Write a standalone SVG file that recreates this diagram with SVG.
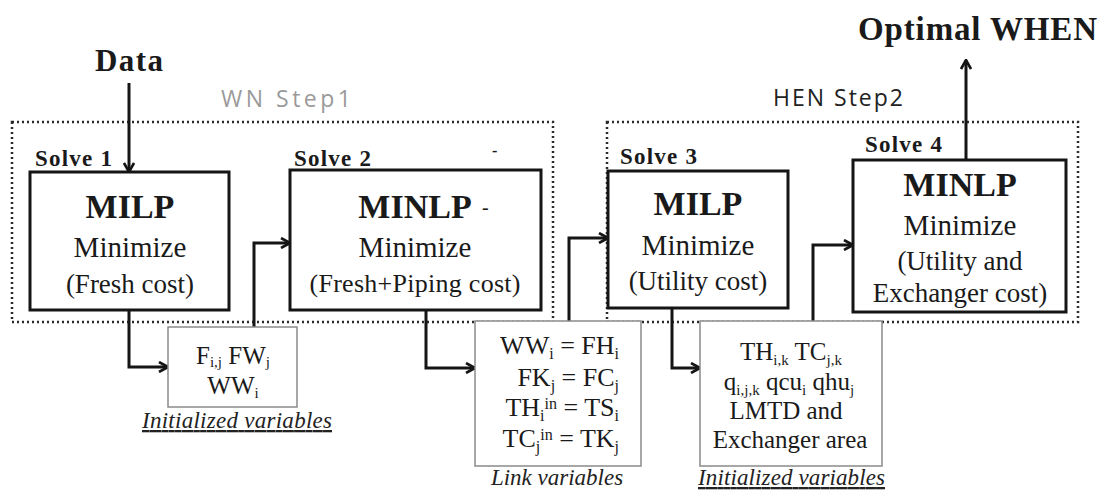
<svg xmlns="http://www.w3.org/2000/svg" width="1101" height="490" viewBox="0 0 1101 490">
<style>
  .serif { font-family: "Liberation Serif", "Times New Roman", serif; fill: #1a1a1a; }
  .bold { font-weight: bold; }
  .title { font-family: "Liberation Serif", serif; font-weight: bold; fill: #1a1a1a; }
  .step { font-family: "Open Sans", "Liberation Sans", sans-serif; }
  .box { fill: #ffffff; stroke: #151515; stroke-width: 3; }
  .small { fill: #ffffff; stroke: #8a8a8a; stroke-width: 1.5; }
  .dot { fill: none; stroke: #2a2a2a; stroke-width: 2.5; stroke-dasharray: 2 3; }
  .conn { fill: none; stroke: #151515; stroke-width: 3; }
  .mid { text-anchor: middle; }
  .lab { font-family: "Liberation Serif", serif; font-style: italic; fill: #222; font-size: 23px; }
</style>
<defs>
  <marker id="ah" viewBox="0 0 12 12" refX="10.5" refY="6" markerWidth="12" markerHeight="12" markerUnits="userSpaceOnUse" orient="auto">
    <path d="M1.5,1 L10.5,6 L1.5,11" fill="none" stroke="#151515" stroke-width="2.6"/>
  </marker>
</defs>

<g id="titles">
  <text class="title" x="95" y="71" font-size="31" textLength="68">Data</text>
  <text class="title" x="858" y="40" font-size="33" textLength="239">Optimal WHEN</text>
  <text class="step" x="221" y="107" font-size="23" fill="#9a9a9a" textLength="130">WN Step1</text>
  <text class="step" x="773" y="106" font-size="23" fill="#222" textLength="130">HEN Step2</text>
</g>

<g id="groups">
  <rect id="wn-step1" class="dot" x="12" y="122" width="541" height="200"/>
  <rect id="hen-step2" class="dot" x="607" y="122" width="471" height="200"/>
</g>

<g id="connectors">
  <path class="conn" d="M129,83 V172" marker-end="url(#ah)"/>
  <path class="conn" d="M129,310 V367 H168" marker-end="url(#ah)"/>
  <path class="conn" d="M254,327 V243 H290" marker-end="url(#ah)"/>
  <path class="conn" d="M426,310 V368 H475" marker-end="url(#ah)"/>
  <path class="conn" d="M569,321 V238 H608" marker-end="url(#ah)"/>
  <path class="conn" d="M672,308 V368 H700" marker-end="url(#ah)"/>
  <path class="conn" d="M813,321 V245 H853" marker-end="url(#ah)"/>
  <path class="conn" d="M966,160 V60" marker-end="url(#ah)"/>
</g>

<g id="solve1">
  <text class="serif bold" x="35" y="166" font-size="23" textLength="77">Solve 1</text>
  <rect class="box" x="30" y="172" width="199" height="138"/>
  <text class="serif bold mid" x="130" y="218" font-size="34">MILP</text>
  <text class="serif mid" x="130" y="257" font-size="29">Minimize</text>
  <text class="serif mid" x="130" y="293" font-size="27">(Fresh cost)</text>
</g>

<g id="solve2">
  <text class="serif bold" x="294" y="166" font-size="23" textLength="77">Solve 2</text>
  <text class="serif bold" x="492" y="156" font-size="16">-</text>
  <rect class="box" x="290" y="170" width="251" height="140"/>
  <text class="serif bold mid" x="415" y="218" font-size="34">MINLP</text>
  <text class="serif" x="482" y="214" font-size="20">-</text>
  <text class="serif mid" x="415" y="257" font-size="29">Minimize</text>
  <text class="serif mid" x="415" y="292" font-size="26" textLength="211">(Fresh+Piping cost)</text>
</g>

<g id="solve3">
  <text class="serif bold" x="620" y="164" font-size="23" textLength="77">Solve 3</text>
  <rect class="box" x="608" y="171" width="180" height="137"/>
  <text class="serif bold mid" x="698" y="215" font-size="34">MILP</text>
  <text class="serif mid" x="698" y="255" font-size="29">Minimize</text>
  <text class="serif mid" x="698" y="290" font-size="27">(Utility cost)</text>
</g>

<g id="solve4">
  <text class="serif bold" x="865" y="152" font-size="23" textLength="77">Solve 4</text>
  <rect class="box" x="853" y="160" width="213" height="152"/>
  <text class="serif bold mid" x="960" y="196" font-size="34">MINLP</text>
  <text class="serif mid" x="960" y="235" font-size="29">Minimize</text>
  <text class="serif mid" x="960" y="270" font-size="27">(Utility and</text>
  <text class="serif mid" x="960" y="302" font-size="27">Exchanger cost)</text>
</g>

<g id="init1">
  <rect class="small" x="168" y="327" width="129" height="80"/>
  <text class="serif mid" x="233" y="364" font-size="25">F<tspan font-size="15" dy="3">i,j</tspan><tspan dy="-3"> FW</tspan><tspan font-size="15" dy="3">j</tspan></text>
  <text class="serif mid" x="233" y="394" font-size="25">WW<tspan font-size="15" dy="4">i</tspan></text>
  <text class="lab" x="142" y="428" text-decoration="underline" textLength="190">Initialized variables</text>
</g>

<g id="link">
  <rect class="small" x="475" y="321" width="166" height="145"/>
  <text class="serif" x="619" y="354" font-size="26" text-anchor="end">WW<tspan font-size="16" dy="5">i</tspan><tspan dy="-5"> = FH</tspan><tspan font-size="16" dy="5">i</tspan></text>
  <text class="serif" x="619" y="386" font-size="26" text-anchor="end">FK<tspan font-size="16" dy="5">j</tspan><tspan dy="-5"> = FC</tspan><tspan font-size="16" dy="5">j</tspan></text>
  <text class="serif" x="619" y="416" font-size="26" text-anchor="end">TH<tspan font-size="16" dy="5">i</tspan><tspan font-size="16" dy="-12">in</tspan><tspan dy="7">  = TS</tspan><tspan font-size="16" dy="5">i</tspan></text>
  <text class="serif" x="619" y="447" font-size="26" text-anchor="end">TC<tspan font-size="16" dy="5">j</tspan><tspan font-size="16" dy="-12">in</tspan><tspan dy="7">  = TK</tspan><tspan font-size="16" dy="5">j</tspan></text>
  <text class="lab mid" x="557" y="485">Link variables</text>
</g>

<g id="init3">
  <rect class="small" x="700" y="321" width="182" height="145"/>
  <text class="serif mid" x="791" y="360" font-size="25">TH<tspan font-size="15" dy="5">i,k</tspan><tspan dy="-5"> TC</tspan><tspan font-size="15" dy="5">j,k</tspan></text>
  <text class="serif mid" x="789" y="390" font-size="25">q<tspan font-size="15" dy="5">i,j,k</tspan><tspan dy="-5"> qcu</tspan><tspan font-size="15" dy="5">i</tspan><tspan dy="-5"> qhu</tspan><tspan font-size="15" dy="5">j</tspan></text>
  <text class="serif mid" x="786" y="419" font-size="25">LMTD and</text>
  <text class="serif mid" x="790" y="448" font-size="25">Exchanger area</text>
  <text class="lab" x="698" y="485" text-decoration="underline" textLength="187">Initialized variables</text>
</g>
</svg>
